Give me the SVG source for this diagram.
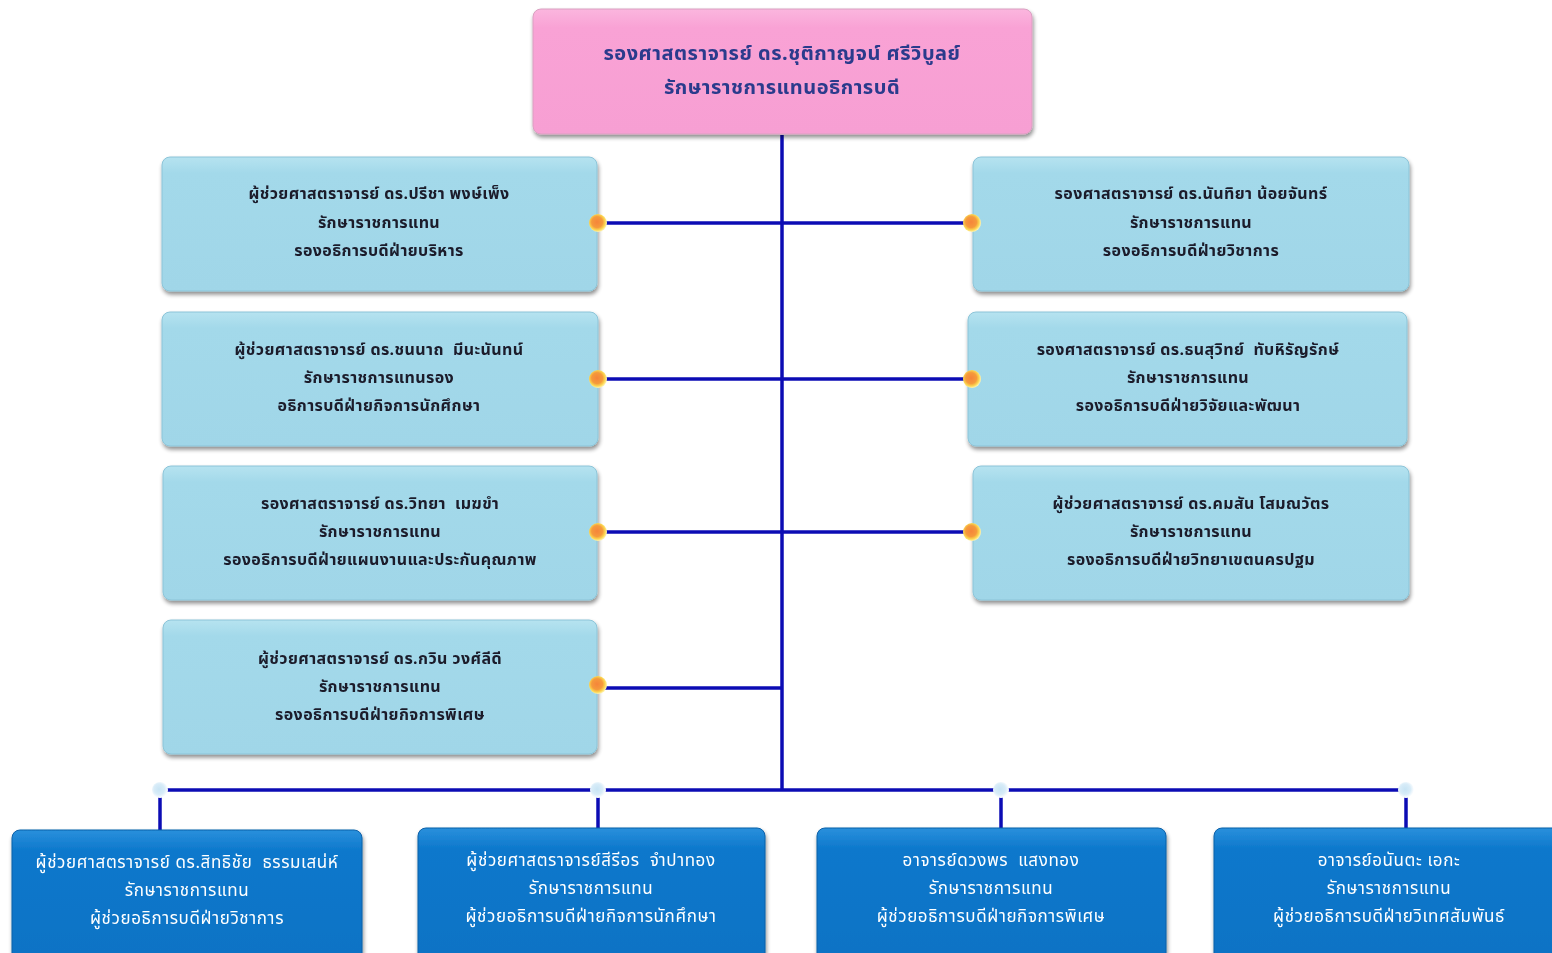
<svg xmlns="http://www.w3.org/2000/svg" width="1552" height="953" viewBox="0 0 1552 953">
<defs>
<linearGradient id="gPink" x1="0" y1="0" x2="0" y2="1">
<stop offset="0" stop-color="#fbb6de"/><stop offset="0.15" stop-color="#f9a2d5"/><stop offset="1" stop-color="#f79fd3"/>
</linearGradient>
<linearGradient id="gLight" x1="0" y1="0" x2="0" y2="1">
<stop offset="0" stop-color="#b6e3f0"/><stop offset="0.12" stop-color="#a3d9ea"/><stop offset="1" stop-color="#a0d6e8"/>
</linearGradient>
<linearGradient id="gDark" x1="0" y1="0" x2="0" y2="1">
<stop offset="0" stop-color="#2a90dc"/><stop offset="0.15" stop-color="#0d78cc"/><stop offset="1" stop-color="#0a72c4"/>
</linearGradient>
<radialGradient id="gOrange" cx="0.45" cy="0.45" r="0.55">
<stop offset="0" stop-color="#f5853a"/><stop offset="0.55" stop-color="#f59a3c"/><stop offset="0.8" stop-color="#fbd550"/><stop offset="1" stop-color="#fff3b0"/>
</radialGradient>
<radialGradient id="gWhite" cx="0.45" cy="0.45" r="0.55">
<stop offset="0" stop-color="#c8e4f4"/><stop offset="0.6" stop-color="#d8ecf8"/><stop offset="1" stop-color="#ffffff"/>
</radialGradient>
<filter id="sh" x="-5%" y="-10%" width="110%" height="125%">
<feGaussianBlur in="SourceAlpha" stdDeviation="2"/>
<feOffset dx="1" dy="3" result="b"/>
<feComponentTransfer><feFuncA type="linear" slope="0.45"/></feComponentTransfer>
<feMerge><feMergeNode/><feMergeNode in="SourceGraphic"/></feMerge>
</filter>
</defs>
<style>
.pink{fill:url(#gPink);stroke:#d9a0c0;stroke-width:1}
.light{fill:url(#gLight);stroke:#8cc4d8;stroke-width:1}
.dark{fill:url(#gDark);stroke:#0a60a8;stroke-width:1}
.line{stroke:#0c0cb4;stroke-width:3.5;fill:none}
.t{font-family:"Noto Sans Thai","Noto Sans","DejaVu Sans","Liberation Sans",sans-serif;text-anchor:middle}
.tt{font-size:20px;fill:#2a3a8c;font-weight:bold;letter-spacing:0.5px}
.tl{font-size:16px;fill:#1a1a2a;font-weight:bold;letter-spacing:0.4px}
.tw{font-size:17px;fill:#ffffff;letter-spacing:0.6px}
.od{fill:url(#gOrange)}
.wd{fill:url(#gWhite)}
</style>
<rect width="1552" height="953" fill="#ffffff"/>

<g id="connectors">
<line class="line" x1="782" y1="135" x2="782" y2="790"/>
<line class="line" x1="598" y1="223" x2="972" y2="223"/>
<line class="line" x1="598" y1="379" x2="972" y2="379"/>
<line class="line" x1="598" y1="532" x2="972" y2="532"/>
<line class="line" x1="598" y1="688" x2="782" y2="688"/>
<line class="line" x1="160" y1="790" x2="1406" y2="790"/>
<line class="line" x1="160" y1="790" x2="160" y2="830"/>
<line class="line" x1="598" y1="790" x2="598" y2="828"/>
<line class="line" x1="1001" y1="790" x2="1001" y2="828"/>
<line class="line" x1="1406" y1="790" x2="1406" y2="830"/>
</g>

<g id="n0" filter="url(#sh)">
<rect class="pink" x="533" y="9" width="499" height="125" rx="8"/>
<text class="t tt" x="782" y="60">รองศาสตราจารย์ ดร.ชุติกาญจน์ ศรีวิบูลย์</text>
<text class="t tt" x="782" y="94">รักษาราชการแทนอธิการบดี</text>
</g>

<g id="n1" filter="url(#sh)">
<rect class="light" x="162" y="157" width="435" height="134" rx="8"/>
<text class="t tl" x="379" y="199">ผู้ช่วยศาสตราจารย์ ดร.ปรีชา พงษ์เพ็ง</text>
<text class="t tl" x="379" y="228">รักษาราชการแทน</text>
<text class="t tl" x="379" y="256">รองอธิการบดีฝ่ายบริหาร</text>
</g>
<g id="n2" filter="url(#sh)">
<rect class="light" x="162" y="312" width="436" height="134" rx="8"/>
<text class="t tl" x="379" y="355">ผู้ช่วยศาสตราจารย์ ดร.ชนนาถ&#160; มีนะนันทน์</text>
<text class="t tl" x="379" y="383">รักษาราชการแทนรอง</text>
<text class="t tl" x="379" y="411">อธิการบดีฝ่ายกิจการนักศึกษา</text>
</g>
<g id="n3" filter="url(#sh)">
<rect class="light" x="163" y="466" width="434" height="134" rx="8"/>
<text class="t tl" x="380" y="509">รองศาสตราจารย์ ดร.วิทยา&#160; เมฆขำ</text>
<text class="t tl" x="380" y="537">รักษาราชการแทน</text>
<text class="t tl" x="380" y="565">รองอธิการบดีฝ่ายแผนงานและประกันคุณภาพ</text>
</g>
<g id="n4" filter="url(#sh)">
<rect class="light" x="163" y="620" width="434" height="134" rx="8"/>
<text class="t tl" x="380" y="664">ผู้ช่วยศาสตราจารย์ ดร.กวิน วงศ์ลีดี</text>
<text class="t tl" x="380" y="692">รักษาราชการแทน</text>
<text class="t tl" x="380" y="720">รองอธิการบดีฝ่ายกิจการพิเศษ</text>
</g>

<g id="n5" filter="url(#sh)">
<rect class="light" x="973" y="157" width="436" height="134" rx="8"/>
<text class="t tl" x="1191" y="199">รองศาสตราจารย์ ดร.นันทิยา น้อยจันทร์</text>
<text class="t tl" x="1191" y="228">รักษาราชการแทน</text>
<text class="t tl" x="1191" y="256">รองอธิการบดีฝ่ายวิชาการ</text>
</g>
<g id="n6" filter="url(#sh)">
<rect class="light" x="968" y="312" width="439" height="134" rx="8"/>
<text class="t tl" x="1188" y="355">รองศาสตราจารย์ ดร.ธนสุวิทย์&#160; ทับหิรัญรักษ์</text>
<text class="t tl" x="1188" y="383">รักษาราชการแทน</text>
<text class="t tl" x="1188" y="411">รองอธิการบดีฝ่ายวิจัยและพัฒนา</text>
</g>
<g id="n7" filter="url(#sh)">
<rect class="light" x="973" y="466" width="436" height="134" rx="8"/>
<text class="t tl" x="1191" y="509">ผู้ช่วยศาสตราจารย์ ดร.คมสัน โสมณวัตร</text>
<text class="t tl" x="1191" y="537">รักษาราชการแทน</text>
<text class="t tl" x="1191" y="565">รองอธิการบดีฝ่ายวิทยาเขตนครปฐม</text>
</g>

<g id="n8" filter="url(#sh)">
<rect class="dark" x="12" y="830" width="350" height="140" rx="8"/>
<text class="t tw" x="187" y="868">ผู้ช่วยศาสตราจารย์ ดร.สิทธิชัย&#160; ธรรมเสน่ห์</text>
<text class="t tw" x="187" y="896">รักษาราชการแทน</text>
<text class="t tw" x="187" y="924">ผู้ช่วยอธิการบดีฝ่ายวิชาการ</text>
</g>
<g id="n9" filter="url(#sh)">
<rect class="dark" x="418" y="828" width="347" height="140" rx="8"/>
<text class="t tw" x="591" y="866">ผู้ช่วยศาสตราจารย์สีรีอร&#160; จำปาทอง</text>
<text class="t tw" x="591" y="894">รักษาราชการแทน</text>
<text class="t tw" x="591" y="922">ผู้ช่วยอธิการบดีฝ่ายกิจการนักศึกษา</text>
</g>
<g id="n10" filter="url(#sh)">
<rect class="dark" x="817" y="828" width="349" height="140" rx="8"/>
<text class="t tw" x="991" y="866">อาจารย์ดวงพร&#160; แสงทอง</text>
<text class="t tw" x="991" y="894">รักษาราชการแทน</text>
<text class="t tw" x="991" y="922">ผู้ช่วยอธิการบดีฝ่ายกิจการพิเศษ</text>
</g>
<g id="n11" filter="url(#sh)">
<rect class="dark" x="1214" y="828" width="350" height="140" rx="8"/>
<text class="t tw" x="1389" y="866">อาจารย์อนันตะ เอกะ</text>
<text class="t tw" x="1389" y="894">รักษาราชการแทน</text>
<text class="t tw" x="1389" y="922">ผู้ช่วยอธิการบดีฝ่ายวิเทศสัมพันธ์</text>
</g>

<g id="dots">
<circle class="od" cx="598" cy="223" r="9"/>
<circle class="od" cx="972" cy="223" r="9"/>
<circle class="od" cx="598" cy="379" r="9"/>
<circle class="od" cx="972" cy="379" r="9"/>
<circle class="od" cx="598" cy="532" r="9"/>
<circle class="od" cx="972" cy="532" r="9"/>
<circle class="od" cx="598" cy="685" r="9"/>
<circle class="wd" cx="160" cy="790" r="8"/>
<circle class="wd" cx="598" cy="790" r="8"/>
<circle class="wd" cx="1001" cy="790" r="8"/>
<circle class="wd" cx="1406" cy="790" r="8"/>
</g>
</svg>
